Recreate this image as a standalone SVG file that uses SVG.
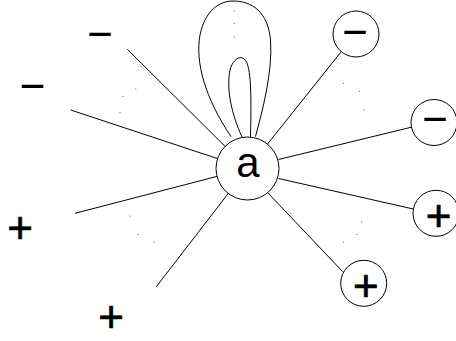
<svg xmlns="http://www.w3.org/2000/svg" width="456" height="341" viewBox="0 0 456 341">
<style>
.e{fill:none;stroke:#000;stroke-width:1}
.n{fill:#fff;stroke:#000;stroke-width:1}
.t{font-family:"Liberation Sans",Arial,sans-serif;font-size:44px;fill:#000;text-anchor:middle}
.p{stroke:#000;stroke-width:0.7}
.d{fill:#666}
</style>
<rect width="456" height="341" fill="#fff"/>
<g id="connectors">
<path class="e" d="M231,136.5 C205,98 195,62 200,35 C205,10 220,1 233,1 C252,1 268,12 270.5,40 C273,72 262,112 255.5,136.5"/>
<path class="e" d="M242,137 C232,115 226,90 230,70 C233,58 243,53 247,63 C252,76 251,110 250.5,137"/>
<line class="e" x1="225" y1="146.3" x2="127.3" y2="49.3"/>
<line class="e" x1="217.6" y1="158.6" x2="70.7" y2="110"/>
<line class="e" x1="217" y1="176.4" x2="75" y2="213.3"/>
<line class="e" x1="228.3" y1="193.4" x2="156.3" y2="286.7"/>
<line class="e" x1="267.5" y1="144" x2="340.7" y2="52.3"/>
<line class="e" x1="278.5" y1="159.5" x2="411" y2="127.3"/>
<line class="e" x1="278.5" y1="178.5" x2="413.3" y2="209"/>
<line class="e" x1="268" y1="193" x2="342.7" y2="271.7"/>
</g>
<g id="dots">
<rect class="d" x="233.8" y="10.5" width="1" height="1"/>
<rect class="d" x="233.8" y="23" width="1" height="1"/>
<rect class="d" x="233.8" y="36.3" width="1" height="1"/>
<rect class="d" x="135.2" y="88.5" width="1" height="1"/>
<rect class="d" x="122.5" y="96" width="1" height="1"/>
<rect class="d" x="119.5" y="112" width="1" height="1"/>
<rect class="d" x="129.5" y="215.7" width="1" height="1"/>
<rect class="d" x="137.8" y="234" width="1" height="1"/>
<rect class="d" x="153.5" y="241.7" width="1" height="1"/>
<rect class="d" x="342.8" y="83" width="1" height="1"/>
<rect class="d" x="358.8" y="91" width="1" height="1"/>
<rect class="d" x="363.8" y="109.4" width="1" height="1"/>
<rect class="d" x="361.2" y="221.4" width="1" height="1"/>
<rect class="d" x="356.2" y="234" width="1" height="1"/>
<rect class="d" x="342.8" y="241.7" width="1" height="1"/>
</g>
<g id="node-a">
<circle class="n" cx="247.5" cy="168.5" r="31.5"/>
<text class="t" x="248" y="176.5" style="font-size:42px">a</text>
</g>
<g id="node-minus-1">
<circle class="n" cx="356" cy="34" r="23"/>
<text class="t" x="355" y="47">−</text>
</g>
<g id="node-minus-2">
<circle class="n" cx="434" cy="122.5" r="23"/>
<text class="t" x="435" y="134">−</text>
</g>
<g id="node-plus-1">
<circle class="n" cx="436" cy="213.3" r="23"/>
<text class="t p" x="438.5" y="230.5">+</text>
</g>
<g id="node-plus-2">
<circle class="n" cx="363.7" cy="283.3" r="23"/>
<text class="t p" x="365.8" y="301">+</text>
</g>
<g id="label-minus-1"><text class="t" x="100" y="48.5">−</text></g>
<g id="label-minus-2"><text class="t" x="32.5" y="100.5">−</text></g>
<g id="label-plus-1"><text class="t p" x="20" y="243">+</text></g>
<g id="label-plus-2"><text class="t p" x="111" y="332">+</text></g>
</svg>
